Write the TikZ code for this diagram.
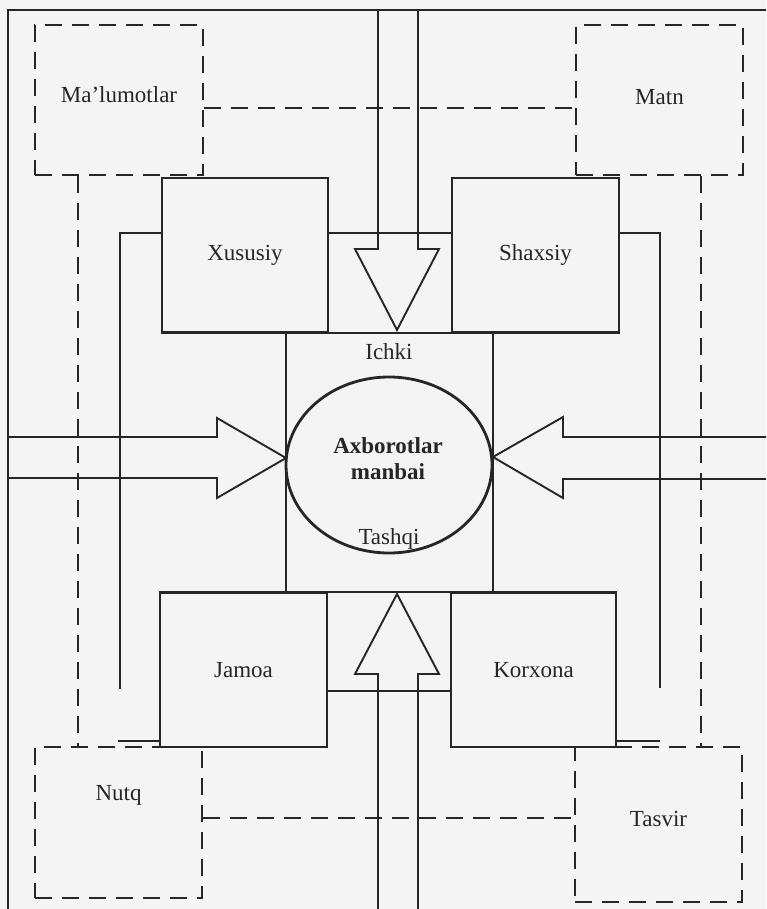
\documentclass[tikz,border=0pt]{standalone}
\usepackage{fontspec}
\setmainfont{Liberation Serif}
\usetikzlibrary{shapes.geometric}
\definecolor{ink}{HTML}{262626}
\definecolor{paper}{HTML}{F4F4F4}
\begin{document}
\begin{tikzpicture}[x=1pt,y=-1pt,
  sline/.style={draw=ink, line width=1.9pt, line join=miter},
  dline/.style={draw=ink, line width=2.3pt, dash pattern=on 17pt off 10pt},
  txt/.style={font=\fontsize{23}{27}\selectfont, text=ink, inner sep=0pt},
  sbox/.style={sline, rectangle, inner sep=0pt, font=\fontsize{23}{27}\selectfont, text=ink},
  dbox/.style={dline, rectangle, inner sep=0pt}
]
\fill[paper] (0,0) rectangle (766,909);
\useasboundingbox (0,0) rectangle (766,909);

% solid boxes
\node[sbox, minimum width=166pt, minimum height=154pt] (xus) at (245,255) {Xususiy};
\node[sbox, minimum width=167pt, minimum height=154pt] (shax) at (535.5,255) {Shaxsiy};
\node[sbox, minimum width=167pt, minimum height=154pt] (jam) at (243.5,670) {Jamoa};
\node[sbox, minimum width=165pt, minimum height=154pt] (kor) at (533.5,670) {Korxona};

% dashed boxes
\node[dbox, minimum width=168pt, minimum height=150pt, label={[txt,yshift=5pt]center:Ma'lumotlar}] (mal) at (119,100) {};
\node[dbox, minimum width=167pt, minimum height=150pt, label={[txt,yshift=3pt]center:Matn}] (matn) at (659.5,100) {};
\node[dbox, minimum width=167pt, minimum height=151pt, label={[txt,yshift=27pt]center:Nutq}] (nutq) at (118.5,822.5) {};
\node[dbox, minimum width=167pt, minimum height=155pt, label={[txt,yshift=6pt]center:Tasvir}] (tas) at (658.5,824.5) {};

% centre
\node[draw=ink, line width=2.8pt, ellipse, minimum width=206pt, minimum height=176pt, inner sep=0pt] (src) at (389,465) {};
\node[txt, font=\bfseries\fontsize{23}{26}\selectfont, align=center] (srct) at (388,459) {Axborotlar\\manbai};
\node[txt] (ichki) at (389,352) {Ichki};
\node[txt] (tashqi) at (389,539) {Tashqi};

% helper coordinates
\coordinate (Lt) at (8,10);
\coordinate (Lb) at (8,909);
\coordinate (Rt) at (766,10);
\coordinate (yA) at (0,233);
\coordinate (yB) at (0,691);
\coordinate (yC) at (0,741);
\coordinate (y1) at (0,108);
\coordinate (y2) at (0,818);
\coordinate (x1) at (78,0);
\coordinate (x2) at (701,0);
\coordinate (lv) at (120,0);
\coordinate (rv) at (660,0);
\coordinate (apT) at (397,330);
\coordinate (apB) at (397,594);
\coordinate (apL) at (286,458);
\coordinate (apR) at (493,457);

% outer frame
\draw[sline] (Lb) -- (Lt) -- (Rt);

% top arrow (down)
\draw[sline] (378,10) -- (378,249) -- (355,249) -- (apT) -- (439,249) -- (418,249) -- (418,10);
% bottom arrow (up)
\draw[sline] (378,909) -- (378,674) -- (355,674) -- (apB) -- (439,674) -- (418,674) -- (418,909);
% left arrow (right)
\draw[sline] (Lt |- 0,437) -- (217,437) -- (217,418) -- (apL) -- (217,498) -- (217,478) -- (8,478);
% right arrow (left)
\draw[sline] (766,437) -- (563,437) -- (563,417) -- (apR) -- (563,498) -- (563,479) -- (766,479);

% upper connecting line and side rails
\draw[sline] (lv |- 0,689) -- (lv |- yA) -- (xus.west |- yA);
\draw[sline] (xus.east |- yA) -- (shax.west |- yA);
\draw[sline] (shax.east |- yA) -- (rv |- yA) -- (rv |- 0,688);

% central square
\draw[sline] (xus.south west) -- (shax.south east);
\draw[sline] (jam.north west) -- (kor.north east);
\draw[sline] (286,332) -- (286,593);
\draw[sline] (493,332) -- (493,593);

% lower connecting lines
\draw[sline] (jam.east |- yB) -- (kor.west |- yB);
\draw[sline] (118,741) -- (jam.west |- yC);
\draw[sline] (kor.east |- yC) -- (rv |- yC);

% dashed connectors
\draw[dline] (mal.east |- y1) -- (matn.west |- y1);
\draw[dline] (nutq.east |- y2) -- (tas.west |- y2);
\draw[dline] (mal.south -| x1) -- (nutq.north -| x1);
\draw[dline] (matn.south -| x2) -- (tas.north -| x2);
\end{tikzpicture}
\end{document}
